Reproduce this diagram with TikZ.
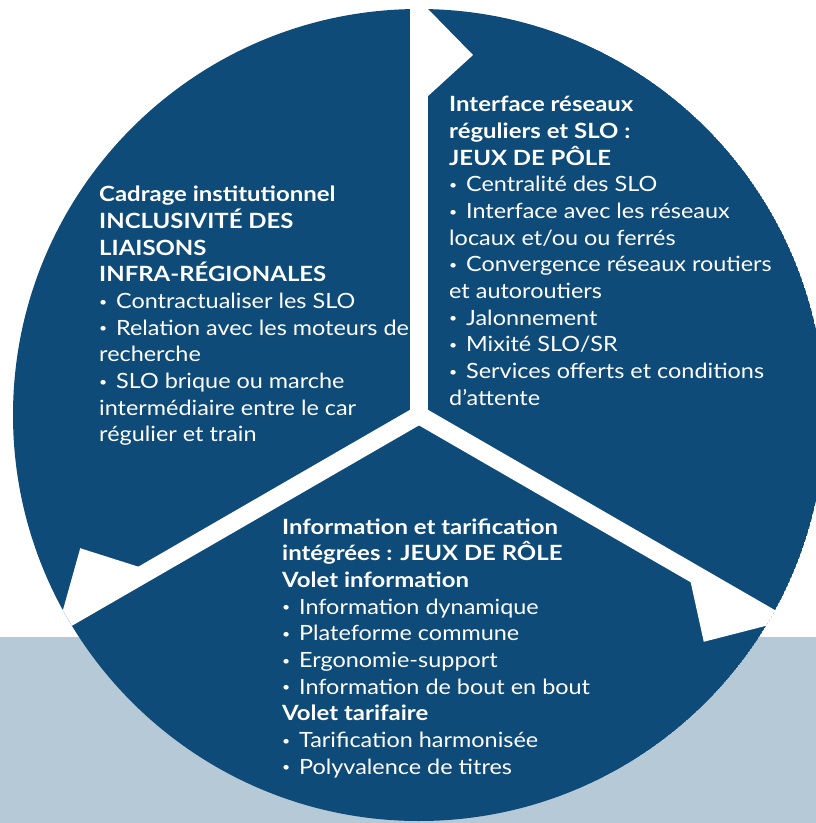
\documentclass[tikz,border=0pt]{standalone}
\usepackage{fontspec}
\setmainfont{Lato}
\definecolor{dblue}{RGB}{14,75,120}
\definecolor{lgray}{RGB}{181,201,214}
\newcommand\schd[1]{\scalebox{1.14}[1]{#1}}
\newcommand\scbl[1]{\scalebox{1.115}[1]{#1}}
\newcommand\bul{\raisebox{2.2pt}{\scalebox{0.6}{•}}\kern2.5pt}
\begin{document}
\begin{tikzpicture}[x=1pt,y=-1pt,
  hd/.style={anchor=base west, inner sep=0, text=white, font=\bfseries\fontsize{21}{24}\selectfont},
  bl/.style={anchor=base west, inner sep=0, text=white, font=\fontsize{21}{24}\selectfont},
  gap/.style={fill=white}]
\useasboundingbox (0,0) rectangle (816,823);
\fill[white] (0,0) rectangle (816,823);
\fill[lgray] (0,637) rectangle (816,823);
\begin{scope}
  \clip (0,0) rectangle (816,823);
  \clip (419,415) circle [radius=406pt];
  \fill[dblue] (419,415) circle [radius=406pt];
  % top-left block
  \foreach [count=\i] \s/\t in {hd/{Cadrage institutionnel}, hd/{INCLUSIVITÉ DES}, hd/{LIAISONS}, hd/{INFRA-RÉGIONALES},
     bl/{\bul{} Contractualiser les SLO}, bl/{\bul{} Relation avec les moteurs de}, bl/{recherche},
     bl/{\bul{} SLO brique ou marche}, bl/{intermédiaire entre le car}, bl/{régulier et train}}
     \node[\s] (tl\i) at (99,{201.7+26.67*(\i-1)}) {\csname sc\s\endcsname{\t}};
  % top-right block
  \foreach [count=\i] \s/\t in {hd/{Interface réseaux}, hd/{réguliers et SLO :}, hd/{JEUX DE PÔLE},
     bl/{\bul{} Centralité des SLO}, bl/{\bul{} Interface avec les réseaux}, bl/{locaux et/ou ou ferrés},
     bl/{\bul{} Convergence réseaux routiers}, bl/{et autoroutiers}, bl/{\bul{} Jalonnement},
     bl/{\bul{} Mixité SLO/SR}, bl/{\bul{} Services offerts et conditions}, bl/{d’attente}}
     \node[\s] (tr\i) at (449,{111.7+26.67*(\i-1)}) {\csname sc\s\endcsname{\t}};
  % bottom block
  \foreach [count=\i] \s/\t in {hd/{Information et tarification}, hd/{intégrées : JEUX DE RÔLE}, hd/{Volet information},
     bl/{\bul{} Information dynamique}, bl/{\bul{} Plateforme commune}, bl/{\bul{} Ergonomie-support},
     bl/{\bul{} Information de bout en bout}, hd/{Volet tarifaire}, bl/{\bul{} Tarification harmonisée},
     bl/{\bul{} Polyvalence de titres}}
     \node[\s] (bt\i) at (282,{534+26.67*(\i-1)}) {\csname sc\s\endcsname{\t}};
  % white gaps with arrow notches
  \foreach \a in {90,210,330} {
    \fill[gap, shift={(419,415)}, rotate=\a] (0,-9) rectangle (440,9);
    \fill[gap, shift={(419,415)}, rotate=\a] (318,8) -- (360,54) -- (407,8) -- cycle;
  }
\end{scope}
\end{tikzpicture}
\end{document}
